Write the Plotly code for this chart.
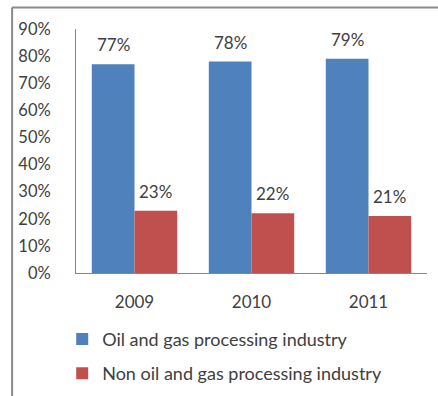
import plotly.graph_objects as go

years = ["2009", "2010", "2011"]
oil_gas = [77, 78, 79]
non_oil_gas = [23, 22, 21]
y_ticks = [0, 10, 20, 30, 40, 50, 60, 70, 80, 90]

FONT = "Lato, 'Open Sans', sans-serif"
TEXT_COLOR = "#404040"
AXIS_COLOR = "#868686"
BARGAP = 0.27
# each of the two bars in a group takes half of the non-gap width of a category
HALF_BAR = (1 - BARGAP) / 4

fig = go.Figure()
fig.add_trace(go.Bar(
    x=years, y=oil_gas, name="Oil and gas processing industry",
    marker=dict(color="#4F81BD", line=dict(width=0)),
    legendgroup="a",
))
fig.add_trace(go.Bar(
    x=years, y=non_oil_gas, name="Non oil and gas processing industry",
    marker=dict(color="#C0504D", line=dict(width=0)),
    legendgroup="b",
))

# value labels sitting above each bar (category positions are serial indices)
annotations = []
for series, shift in ((oil_gas, -HALF_BAR), (non_oil_gas, HALF_BAR)):
    for i, v in enumerate(series):
        annotations.append(dict(
            x=i + shift, y=v, xref="x", yref="y", text=f"{v}%",
            showarrow=False, yshift=7, yanchor="bottom",
            font=dict(size=17, color=TEXT_COLOR),
        ))

fig.update_layout(
    width=438, height=396,
    margin=dict(l=76, r=11, t=29, b=123, autoexpand=False),
    paper_bgcolor="white", plot_bgcolor="white",
    font=dict(family=FONT, size=17, color=TEXT_COLOR),
    barmode="group", bargap=BARGAP, bargroupgap=0,
    showlegend=True,
    legend=dict(
        xref="container", yref="container",
        x=0.142, y=0.19, xanchor="left", yanchor="top",
        orientation="v", font=dict(size=18, color=TEXT_COLOR),
        tracegroupgap=8, bgcolor="rgba(0,0,0,0)",
    ),
    xaxis=dict(
        type="category", categoryorder="array", categoryarray=years,
        range=[-0.5, len(years) - 0.5],
        showline=True, linecolor=AXIS_COLOR, linewidth=1,
        ticks="", showgrid=False, ticklabelstandoff=14,
        tickfont=dict(size=17, color=TEXT_COLOR),
    ),
    yaxis=dict(
        range=[0, 90], tickvals=y_ticks,
        ticktext=[f"{v}%" for v in y_ticks],
        showline=True, linecolor=AXIS_COLOR, linewidth=1,
        ticks="", showgrid=False, zeroline=False,
        ticklabelstandoff=21,
        tickfont=dict(size=16.5, color=TEXT_COLOR),
    ),
    annotations=annotations,
    shapes=[
        # chart frame (top and left edges)
        dict(type="line", xref="paper", yref="paper",
             x0=-0.182, x1=1.05, y0=1.088, y1=1.088,
             line=dict(color="#8a8a8a", width=2)),
        dict(type="line", xref="paper", yref="paper",
             x0=-0.182, x1=-0.182, y0=1.088, y1=-0.55,
             line=dict(color="#8a8a8a", width=2)),
    ],
)

fig.write_html("out.html")
